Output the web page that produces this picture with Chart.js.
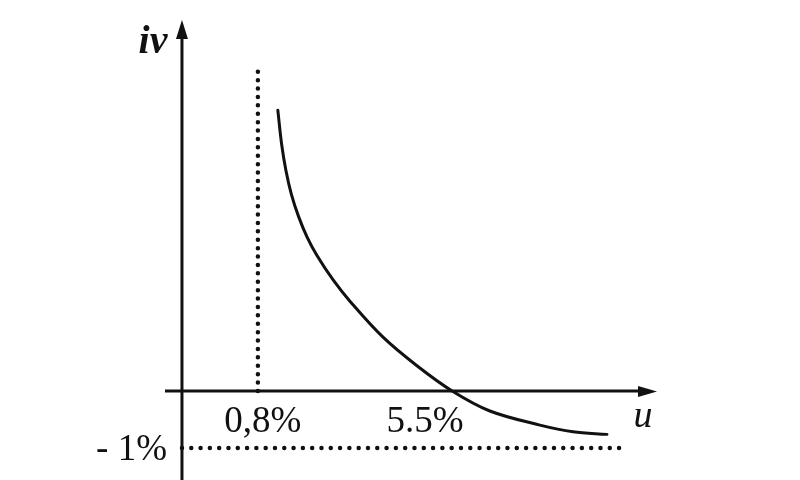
<!DOCTYPE html>
<html>
<head>
<meta charset="utf-8">
<script src="https://cdn.jsdelivr.net/npm/chart.js@4"></script>
<style>
  html, body { margin: 0; padding: 0; background: #fff; }
  #wrap { width: 800px; height: 480px; }
</style>
</head>
<body>
<div id="wrap"><canvas id="c" width="800" height="480"></canvas></div>
<script>
// ── DATA (schematic units) ──────────────────────────────────────────────────
const curveU  = [22.6, 23.5, 24.5, 25.8, 27.5, 29.5, 31.8, 35.6, 39.6, 47.4, 55.4, 63.7, 72.6, 84.4, 92.2, 100.2];
const curveIV = [75.7, 66.5, 59.5, 53.0, 47.0, 41.5, 36.6, 30.0, 24.2, 14.5,  6.8,  0.0, -5.4, -9.2, -11.0, -11.7];

const markU     = 17.9;   // the 0,8% dotted guide
const markTopIV = 86.5;
const floorIV   = -15.4;  // the -1% dotted guide
const floorEndU = 103.3;

const xTickTexts = ['0,8%', '5.5%'];
const xTickAt    = [17.9, 63.7];
const yTickText  = '- 1%';
const yTickAt    = -15.4;
const xAxisName  = 'u';
const yAxisName  = 'iv';

const U_MIN = -4, U_MAX = 112, IV_MIN = -24, IV_MAX = 100;

// ── HELPERS ─────────────────────────────────────────────────────────────────
const INK = '#111';
const SERIF = '"Liberation Serif", "DejaVu Serif", serif';
const pts = (xs, ys) => xs.map((x, i) => ({ x, y: ys[i] }));

// arrows + text labels, positioned through the chart scales
const decor = {
  id: 'decor',
  afterDatasetsDraw(chart) {
    const { ctx, scales: { x, y } } = chart;
    const x0 = x.getPixelForValue(0), y0 = y.getPixelForValue(0);
    const xEnd = x.getPixelForValue(U_MAX), yTop = y.getPixelForValue(IV_MAX);
    ctx.save();
    ctx.fillStyle = INK;

    // arrowheads
    ctx.beginPath();
    ctx.moveTo(x0, yTop);
    ctx.lineTo(x0 - 6, yTop + 19);
    ctx.lineTo(x0 + 6, yTop + 19);
    ctx.closePath(); ctx.fill();
    ctx.beginPath();
    ctx.moveTo(xEnd, y0 + 0.5);
    ctx.lineTo(xEnd - 19, y0 - 5);
    ctx.lineTo(xEnd - 19, y0 + 6);
    ctx.closePath(); ctx.fill();

    // tick texts
    ctx.font = `37px ${SERIF}`;
    ctx.textBaseline = 'alphabetic';
    ctx.textAlign = 'center';
    ctx.fillText(xTickTexts[0], x.getPixelForValue(xTickAt[0]) + 5, y0 + 41);
    ctx.fillText(xTickTexts[1], x.getPixelForValue(xTickAt[1]) - 27, y0 + 41);
    ctx.textAlign = 'right';
    ctx.fillText(yTickText, x0 - 15, y.getPixelForValue(yTickAt) + 12);

    // axis names
    ctx.textAlign = 'center';
    ctx.font = `italic 38px ${SERIF}`;
    ctx.fillText(xAxisName, xEnd - 14, y0 + 36);
    ctx.font = `bold italic 40px ${SERIF}`;
    ctx.fillText(yAxisName, x0 - 29, yTop + 33);
    ctx.restore();
  }
};

// ── CHART ───────────────────────────────────────────────────────────────────
new Chart(document.getElementById('c'), {
  type: 'line',
  data: {
    datasets: [
      // axes
      { data: pts([U_MIN, U_MAX - 2], [0, 0]), borderColor: INK, borderWidth: 3 },
      { data: pts([0, 0], [IV_MIN, IV_MAX - 2]), borderColor: INK, borderWidth: 3 },
      // dotted guides
      { data: pts([markU, markU], [0, markTopIV]), borderColor: INK, borderWidth: 4.5,
        borderDash: [0, 8.4], borderCapStyle: 'round' },
      { data: pts([0, floorEndU], [floorIV, floorIV]), borderColor: INK, borderWidth: 4.5,
        borderDash: [0, 9.3], borderCapStyle: 'round' },
      // the curve
      { data: pts(curveU, curveIV), borderColor: INK, borderWidth: 3,
        tension: 0.35, borderCapStyle: 'round', borderJoinStyle: 'round' },
    ]
  },
  options: {
    responsive: false,
    animation: false,
    events: [],
    layout: { padding: { left: 165, right: 143, top: 20, bottom: 0 } },
    elements: { point: { radius: 0 } },
    plugins: { legend: { display: false }, tooltip: { enabled: false } },
    scales: {
      x: { type: 'linear', min: U_MIN, max: U_MAX, display: false },
      y: { type: 'linear', min: IV_MIN, max: IV_MAX, display: false },
    },
  },
  plugins: [decor],
});
</script>
</body>
</html>
